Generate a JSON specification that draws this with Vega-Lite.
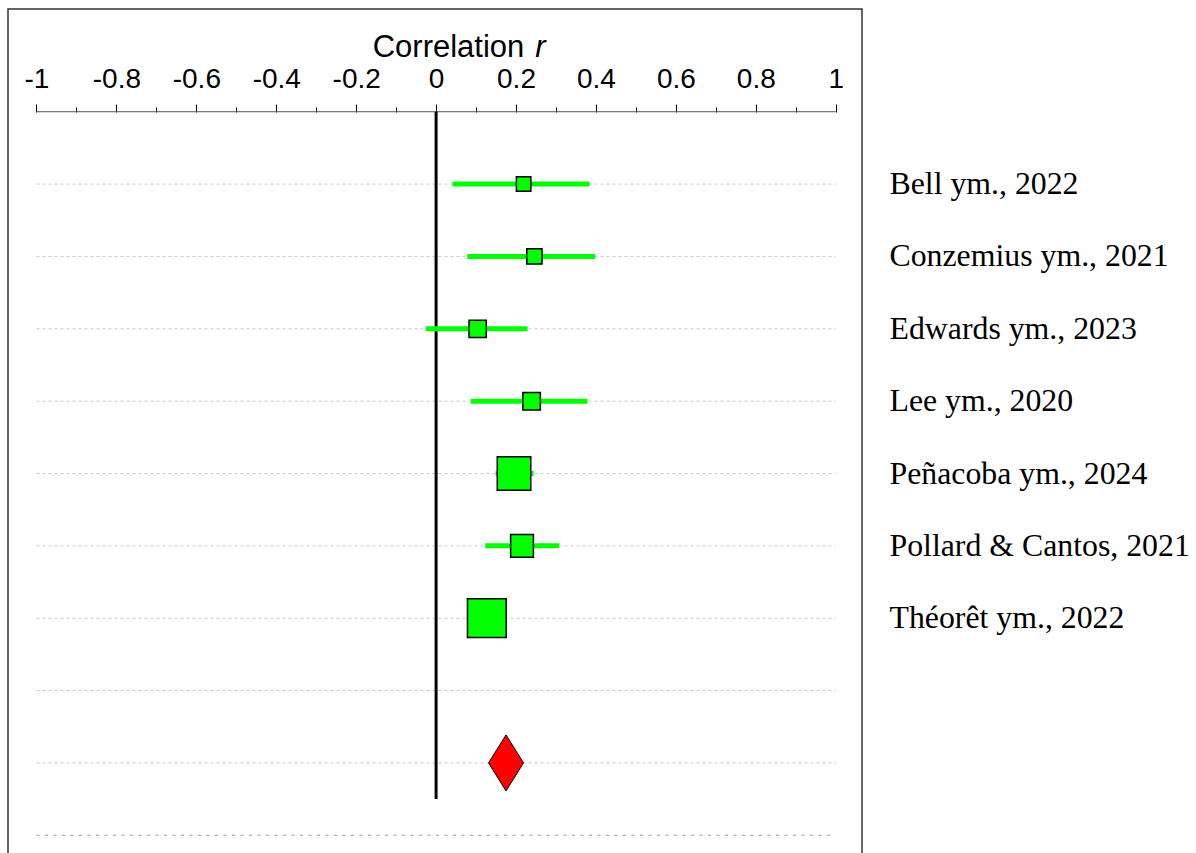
{
  "$schema": "https://vega.github.io/schema/vega-lite/v6.json",
  "width": 854,
  "height": 929,
  "autosize": "none",
  "padding": {"left": 8, "top": 9, "right": 334, "bottom": 0},
  "background": "white",
  "config": {"view": {"stroke": "#333", "strokeWidth": 1.5}, "font": "Liberation Sans"},
  "data": {"values": [{}]},
  "datasets": {
    "studies": [
      {"study": "Bell ym., 2022", "r": 0.219, "lower": 0.041, "upper": 0.384, "weight": 5.0},
      {"study": "Conzemius ym., 2021", "r": 0.246, "lower": 0.078, "upper": 0.398, "weight": 5.5},
      {"study": "Edwards ym., 2023", "r": 0.104, "lower": -0.026, "upper": 0.229, "weight": 7.1},
      {"study": "Lee ym., 2020", "r": 0.239, "lower": 0.087, "upper": 0.379, "weight": 7.3},
      {"study": "Peñacoba ym., 2024", "r": 0.195, "lower": 0.149, "upper": 0.244, "weight": 26.8},
      {"study": "Pollard & Cantos, 2021", "r": 0.215, "lower": 0.123, "upper": 0.308, "weight": 12.4},
      {"study": "Théorêt ym., 2022", "r": 0.127, "lower": 0.09, "upper": 0.165, "weight": 35.9}
    ],
    "rows": [
      {"row": "Bell ym., 2022"},
      {"row": "Conzemius ym., 2021"},
      {"row": "Edwards ym., 2023"},
      {"row": "Lee ym., 2020"},
      {"row": "Peñacoba ym., 2024"},
      {"row": "Pollard & Cantos, 2021"},
      {"row": "Théorêt ym., 2022"},
      {"row": "_blank"},
      {"row": "_summary"}
    ],
    "summary": [
      {"row": "_summary", "r": 0.175, "lower": 0.13, "upper": 0.22}
    ]
  },
  "layer": [
    {
      "data": {"name": "rows"},
      "mark": {"type": "rule", "color": "#c8c8c8", "strokeWidth": 1, "strokeDash": [3, 3]},
      "encoding": {
        "x": {"datum": -1, "type": "quantitative", "scale": {"domain": [-1.0713, 1.0658], "nice": false, "zero": false}, "axis": null},
        "x2": {"datum": 1},
        "y": {"field": "row", "type": "nominal", "axis": null, "scale": {"type": "band", "paddingInner": 0, "paddingOuter": 0.92, "domain": ["_axis", "Bell ym., 2022", "Conzemius ym., 2021", "Edwards ym., 2023", "Lee ym., 2020", "Peñacoba ym., 2024", "Pollard & Cantos, 2021", "Théorêt ym., 2022", "_blank", "_summary", "_bottom"]}}
      }
    },
    {
      "mark": {"type": "rule", "color": "#999999", "strokeWidth": 1, "strokeDash": [3, 5.5]},
      "encoding": {
        "x": {"datum": -1, "type": "quantitative", "scale": {"domain": [-1.0713, 1.0658], "nice": false, "zero": false}, "axis": null},
        "x2": {"datum": 0.995},
        "y": {"datum": "_bottom", "type": "nominal", "axis": null, "scale": {"type": "band", "paddingInner": 0, "paddingOuter": 0.92, "domain": ["_axis", "Bell ym., 2022", "Conzemius ym., 2021", "Edwards ym., 2023", "Lee ym., 2020", "Peñacoba ym., 2024", "Pollard & Cantos, 2021", "Théorêt ym., 2022", "_blank", "_summary", "_bottom"]}}
      }
    },
    {
      "mark": {"type": "rule", "color": "#555555", "strokeWidth": 1},
      "encoding": {
        "x": {"datum": -1, "type": "quantitative", "scale": {"domain": [-1.0713, 1.0658], "nice": false, "zero": false}, "axis": null},
        "x2": {"datum": 1},
        "y": {"datum": "_axis", "type": "nominal", "axis": null, "scale": {"type": "band", "paddingInner": 0, "paddingOuter": 0.92, "domain": ["_axis", "Bell ym., 2022", "Conzemius ym., 2021", "Edwards ym., 2023", "Lee ym., 2020", "Peñacoba ym., 2024", "Pollard & Cantos, 2021", "Théorêt ym., 2022", "_blank", "_summary", "_bottom"]}}
      }
    },
    {
      "mark": {"type": "rule", "color": "#000000", "strokeWidth": 3, "y2Offset": 36},
      "encoding": {
        "x": {"datum": 0, "type": "quantitative", "scale": {"domain": [-1.0713, 1.0658], "nice": false, "zero": false}, "axis": null},
        "y": {"datum": "_axis", "type": "nominal", "axis": null, "scale": {"type": "band", "paddingInner": 0, "paddingOuter": 0.92, "domain": ["_axis", "Bell ym., 2022", "Conzemius ym., 2021", "Edwards ym., 2023", "Lee ym., 2020", "Peñacoba ym., 2024", "Pollard & Cantos, 2021", "Théorêt ym., 2022", "_blank", "_summary", "_bottom"]}},
        "y2": {"datum": "_summary"}
      }
    },
    {
      "data": {"name": "studies"},
      "mark": {"type": "rule", "color": "#00ff00", "strokeWidth": 5},
      "encoding": {
        "x": {
          "field": "lower", "type": "quantitative",
          "scale": {"domain": [-1.0713, 1.0658], "nice": false, "zero": false},
          "axis": {
            "orient": "top", "offset": -103,
            "values": [-1, -0.8, -0.6, -0.4, -0.2, 0, 0.2, 0.4, 0.6, 0.8, 1],
            "domain": false, "grid": false,
            "ticks": true, "tickSize": 8, "tickColor": "#000000", "tickWidth": 1,
            "labels": true, "labelFont": "Liberation Sans", "labelFontSize": 28, "labelColor": "#000000",
            "labelPadding": 11, "labelFlush": false, "labelOverlap": false,
            "labelExpr": "datum.value < 0 ? '-' + format(-datum.value, '~g') : format(datum.value, '~g')",
            "title": "Correlation", "titleFont": "Liberation Sans", "titleFontSize": 31, "titleFontWeight": "normal",
            "titleColor": "#000000", "titleX": 440, "titleY": -56, "titleBaseline": "alphabetic", "titleAlign": "center", "titleAngle": 0
          }
        },
        "x2": {"field": "upper"},
        "y": {"field": "study", "type": "nominal", "axis": null, "scale": {"type": "band", "paddingInner": 0, "paddingOuter": 0.92, "domain": ["_axis", "Bell ym., 2022", "Conzemius ym., 2021", "Edwards ym., 2023", "Lee ym., 2020", "Peñacoba ym., 2024", "Pollard & Cantos, 2021", "Théorêt ym., 2022", "_blank", "_summary", "_bottom"]}}
      }
    },
    {
      "data": {"name": "studies"},
      "mark": {"type": "point", "shape": "square", "filled": true, "fill": "#00ff00", "stroke": "#000000", "strokeWidth": 1.5, "opacity": 1},
      "encoding": {
        "x": {
          "field": "r", "type": "quantitative",
          "scale": {"domain": [-1.0713, 1.0658], "nice": false, "zero": false},
          "axis": {
            "orient": "top", "offset": -103,
            "values": [-0.9, -0.7, -0.5, -0.3, -0.1, 0.1, 0.3, 0.5, 0.7, 0.9],
            "domain": false, "grid": false,
            "ticks": true, "tickSize": 5, "tickColor": "#000000", "tickWidth": 1,
            "labels": false,
            "title": "r", "titleFont": "Liberation Sans", "titleFontSize": 31, "titleFontWeight": "normal", "titleFontStyle": "italic",
            "titleColor": "#000000", "titleX": 532, "titleY": -56, "titleBaseline": "alphabetic", "titleAlign": "center", "titleAngle": 0
          }
        },
        "y": {
          "field": "study", "type": "nominal",
          "scale": {"type": "band", "paddingInner": 0, "paddingOuter": 0.92, "domain": ["_axis", "Bell ym., 2022", "Conzemius ym., 2021", "Edwards ym., 2023", "Lee ym., 2020", "Peñacoba ym., 2024", "Pollard & Cantos, 2021", "Théorêt ym., 2022", "_blank", "_summary", "_bottom"]},
          "axis": {
            "orient": "right", "domain": false, "ticks": false, "tickSize": 0, "grid": false, "title": null,
            "labelFont": "Liberation Serif", "labelFontSize": 31.8, "labelColor": "#000000", "labelPadding": 27,
            "labelLimit": 400, "labelOverlap": false,
            "labelExpr": "indexof(datum.value, '_') == 0 ? '' : datum.value"
          }
        },
        "size": {"field": "weight", "type": "quantitative", "scale": {"domain": [0, 100], "range": [0, 4190]}, "legend": null}
      }
    },
    {
      "data": {"name": "summary"},
      "mark": {"type": "point", "shape": "M0,-1.6L1,0L0,1.6L-1,0Z", "filled": true, "fill": "#ff0000", "stroke": "#000000", "strokeWidth": 1, "size": 1225, "opacity": 1},
      "encoding": {
        "x": {"field": "r", "type": "quantitative", "scale": {"domain": [-1.0713, 1.0658], "nice": false, "zero": false}, "axis": null},
        "y": {"field": "row", "type": "nominal", "axis": null, "scale": {"type": "band", "paddingInner": 0, "paddingOuter": 0.92, "domain": ["_axis", "Bell ym., 2022", "Conzemius ym., 2021", "Edwards ym., 2023", "Lee ym., 2020", "Peñacoba ym., 2024", "Pollard & Cantos, 2021", "Théorêt ym., 2022", "_blank", "_summary", "_bottom"]}}
      }
    }
  ],
  "resolve": {"axis": {"x": "independent", "y": "independent"}}
}
